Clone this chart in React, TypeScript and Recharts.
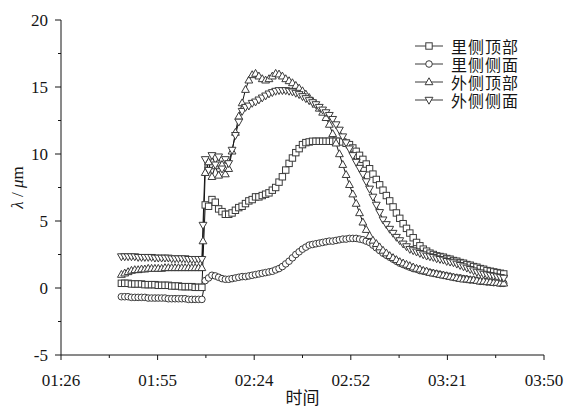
import React from 'react';
import { LineChart, Line, XAxis, YAxis, Legend, Label } from 'recharts';

// Sample times (hh:mm or hh:mm:ss)
const times = [
  '01:44', '01:45', '01:46', '01:47', '01:48', '01:49', '01:50', '01:51', '01:52', '01:53',
  '01:54', '01:55', '01:56', '01:57', '01:58', '01:59', '02:00', '02:01', '02:02', '02:03',
  '02:04', '02:05', '02:06', '02:07', '02:08',
  '02:08:20',
  '02:09', '02:10', '02:11', '02:12', '02:13', '02:14', '02:15', '02:16', '02:17', '02:18',
  '02:19', '02:20', '02:21', '02:22', '02:23', '02:24', '02:25', '02:26', '02:27', '02:28',
  '02:29', '02:30', '02:31', '02:32', '02:33', '02:34', '02:35', '02:36', '02:37', '02:38',
  '02:39', '02:40', '02:41', '02:42', '02:43', '02:44', '02:45', '02:46', '02:47', '02:48',
  '02:49', '02:50', '02:51', '02:52', '02:53', '02:54', '02:55', '02:56', '02:57', '02:58',
  '02:59', '03:00', '03:01', '03:02', '03:03', '03:04', '03:05', '03:06', '03:07', '03:08',
  '03:09', '03:10', '03:11', '03:12', '03:13', '03:14', '03:15', '03:16', '03:17', '03:18',
  '03:19', '03:20', '03:21', '03:22', '03:23', '03:24', '03:25', '03:26', '03:27', '03:28',
  '03:29', '03:30', '03:31', '03:32', '03:33', '03:34', '03:35', '03:36', '03:37', '03:38',
];

// 里侧顶部 (squares)
const innerTop = [
  0.35, 0.35, 0.35, 0.3, 0.3, 0.3, 0.3, 0.25, 0.25, 0.25,
  0.25, 0.2, 0.2, 0.2, 0.2, 0.15, 0.15, 0.15, 0.1, 0.1,
  0.1, 0.1, 0.05, 0.05, 0.05,
  null,
  6.2, 6.1, 6.6, 6.4, 5.9, 5.7, 5.5, 5.5, 5.6, 5.8,
  6.0, 6.1, 6.3, 6.5, 6.6, 6.8, 6.8, 6.9, 7.0, 7.1,
  7.3, 7.5, 7.9, 8.3, 8.8, 9.3, 9.7, 10.1, 10.4, 10.7,
  10.85, 10.9, 10.95, 10.95, 10.95, 10.95, 10.95, 10.95, 10.95, 10.95,
  10.95, 10.9, 10.8, 10.7, 10.45, 10.2, 9.9, 9.6, 9.25, 8.9,
  8.5, 8.1, 7.7, 7.3, 6.9, 6.5, 6.05, 5.6, 5.2, 4.8,
  4.45, 4.1, 3.75, 3.4, 3.15, 2.9, 2.75, 2.6, 2.5, 2.4,
  2.35, 2.3, 2.2, 2.15, 2.05, 2.0, 1.9, 1.85, 1.75, 1.7,
  1.6, 1.55, 1.45, 1.4, 1.3, 1.25, 1.2, 1.15, 1.1, 1.05,
];

// 里侧侧面 (circles)
const innerSide = [
  -0.65, -0.65, -0.65, -0.7, -0.7, -0.7, -0.7, -0.7, -0.75, -0.75,
  -0.75, -0.75, -0.75, -0.75, -0.8, -0.8, -0.8, -0.8, -0.8, -0.8,
  -0.85, -0.85, -0.85, -0.85, -0.85,
  null,
  0.55, 0.75, 0.95, 0.9, 0.8, 0.7, 0.65, 0.65, 0.7, 0.75,
  0.8, 0.85, 0.85, 0.9, 0.95, 1.0, 1.05, 1.1, 1.15, 1.2,
  1.25, 1.35, 1.45, 1.6, 1.8, 2.0, 2.25, 2.5, 2.7, 2.9,
  3.05, 3.2, 3.25, 3.3, 3.35, 3.4, 3.45, 3.5, 3.5, 3.55,
  3.6, 3.65, 3.65, 3.7, 3.7, 3.7, 3.65, 3.6, 3.5, 3.4,
  3.2, 3.0, 2.8, 2.6, 2.45, 2.3, 2.15, 2.0, 1.85, 1.75,
  1.65, 1.55, 1.45, 1.4, 1.3, 1.25, 1.2, 1.15, 1.1, 1.05,
  1.0, 0.95, 0.9, 0.85, 0.8, 0.75, 0.75, 0.7, 0.65, 0.6,
  0.6, 0.55, 0.5, 0.5, 0.45, 0.45, 0.4, 0.4, 0.35, 0.35,
];

// 外侧顶部 (triangles up)
const outerTop = [
  1.0, 1.1, 1.2, 1.3, 1.35, 1.35, 1.4, 1.4, 1.45, 1.45,
  1.45, 1.45, 1.45, 1.5, 1.5, 1.5, 1.5, 1.5, 1.5, 1.5,
  1.5, 1.5, 1.5, 1.5, 1.5,
  3.5,
  8.6, 9.4, 8.3, 9.1, 8.4, 9.2, 8.5, 8.9, 10.2, 11.6,
  12.8, 13.8, 14.8, 15.5, 15.9, 16.0, 15.8, 15.6, 15.5, 15.6,
  15.8, 16.0, 15.95, 15.8, 15.6, 15.45, 15.3, 15.1, 14.9, 14.7,
  14.45, 14.2, 13.95, 13.7, 13.4, 13.1, 12.7, 12.2, 11.5, 10.8,
  10.0, 9.2, 8.45, 7.7, 7.0, 6.3, 5.6, 4.9, 4.35, 3.9,
  3.55, 3.3, 3.05, 2.8, 2.6, 2.4, 2.25, 2.1, 1.95, 1.85,
  1.75, 1.65, 1.55, 1.45, 1.4, 1.3, 1.25, 1.15, 1.1, 1.05,
  1.0, 0.95, 0.9, 0.85, 0.8, 0.75, 0.7, 0.65, 0.65, 0.6,
  0.6, 0.55, 0.5, 0.5, 0.45, 0.45, 0.4, 0.4, 0.35, 0.35,
];

// 外侧侧面 (triangles down)
const outerSide = [
  2.35, 2.35, 2.35, 2.35, 2.35, 2.3, 2.3, 2.3, 2.3, 2.3,
  2.25, 2.25, 2.25, 2.25, 2.25, 2.2, 2.2, 2.2, 2.2, 2.2,
  2.15, 2.15, 2.15, 2.15, 2.15,
  4.7,
  9.6, 8.8, 9.9, 9.2, 9.8, 8.9, 9.6, 9.3, 10.3, 11.4,
  12.4, 13.2, 13.5, 13.6, 13.8, 13.9, 14.05, 14.2, 14.35, 14.5,
  14.6, 14.7, 14.75, 14.75, 14.75, 14.7, 14.65, 14.55, 14.45, 14.3,
  14.15, 14.0, 13.85, 13.7, 13.5, 13.3, 13.1, 12.9, 12.6, 12.2,
  11.8, 11.3, 10.85, 10.4, 9.9, 9.4, 8.95, 8.5, 7.95, 7.4,
  6.8, 6.2, 5.65, 5.1, 4.75, 4.4, 4.1, 3.8, 3.55, 3.3,
  3.1, 2.9, 2.8, 2.7, 2.6, 2.5, 2.4, 2.35, 2.3, 2.2,
  2.15, 2.1, 2.0, 1.95, 1.9, 1.8, 1.7, 1.6, 1.5, 1.4,
  1.3, 1.2, 1.15, 1.05, 1.0, 0.95, 0.9, 0.85, 0.8, 0.75,
];

const seriesNames = ['里侧顶部', '里侧侧面', '外侧顶部', '外侧侧面'];
const seriesKeys = ['innerTop', 'innerSide', 'outerTop', 'outerSide'];
const seriesShapes = ['square', 'circle', 'triUp', 'triDown'];

const xTickValues = [86, 100.4, 114.8, 129.2, 143.6, 158, 172.4, 186.8, 201.2, 215.6, 230];
const xTickLabels = ['01:26', '', '01:55', '', '02:24', '', '02:52', '', '03:21', '', '03:50'];
const yTickValues = [-5, -2.5, 0, 2.5, 5, 7.5, 10, 12.5, 15, 17.5, 20];
const yTickLabels = ['-5', '', '0', '', '5', '', '10', '', '15', '', '20'];

const xTitle = '时间';

const toMinutes = (s: string) => {
  const p = s.split(':').map(Number);
  return p[0] * 60 + p[1] + (p[2] || 0) / 60;
};

const data = times.map((t, i) => ({
  t: toMinutes(t),
  innerTop: innerTop[i],
  innerSide: innerSide[i],
  outerTop: outerTop[i],
  outerSide: outerSide[i],
}));

const INK = '#151515';
const MARK = '#3a3a3a';
const SERIF = "'Liberation Serif', Tinos, 'Times New Roman', Times, 'Nimbus Roman', 'Nimbus Roman No9 L', FreeSerif, serif";
const CJK = "'Noto Sans CJK SC', 'Noto Sans CJK JP', sans-serif";

function Marker({ shape, cx, cy }: { shape: string; cx: number; cy: number }) {
  const common = { stroke: MARK, strokeWidth: 1, fill: '#fff' };
  if (shape === 'square') return <rect x={cx - 3.2} y={cy - 3.2} width={6.4} height={6.4} {...common} />;
  if (shape === 'circle') return <circle cx={cx} cy={cy} r={3.3} {...common} />;
  if (shape === 'triUp')
    return <polygon points={`${cx},${cy - 4.2} ${cx + 3.9},${cy + 2.7} ${cx - 3.9},${cy + 2.7}`} {...common} />;
  return <polygon points={`${cx},${cy + 4.2} ${cx + 3.9},${cy - 2.7} ${cx - 3.9},${cy - 2.7}`} {...common} />;
}

const makeDot = (shape: string) => (props: any) => {
  const { cx, cy, index, value } = props;
  if (value == null || cx == null || cy == null || isNaN(cx) || isNaN(cy)) return <g key={`d-${index}`} />;
  return <Marker key={`d-${index}`} shape={shape} cx={cx} cy={cy} />;
};

const labelFor = (values: number[], labels: string[], v: number) => {
  const i = values.findIndex((x) => Math.abs(x - v) < 1e-6);
  return i >= 0 ? labels[i] : '';
};

const textStyle = { fontFamily: SERIF };

const BottomTick = (p: any) => {
  const lab = labelFor(xTickValues, xTickLabels, p.payload.value);
  const len = lab ? 5 : 3;
  return (
    <g>
      <line x1={p.x} y1={p.y} x2={p.x} y2={p.y + len} stroke={INK} strokeWidth={1} />
      {lab && (
        <text x={p.x} y={p.y + 31} textAnchor="middle" style={textStyle} fontSize={17} fill={INK}>
          {lab}
        </text>
      )}
    </g>
  );
};

const TopTick = (p: any) => {
  const lab = labelFor(xTickValues, xTickLabels, p.payload.value);
  const len = lab ? 5 : 3.5;
  return <line x1={p.x} y1={p.y} x2={p.x} y2={p.y + len} stroke={INK} strokeWidth={1} />;
};

const LeftTick = (p: any) => {
  const lab = labelFor(yTickValues, yTickLabels, p.payload.value);
  const len = lab ? 6 : 3;
  return (
    <g>
      <line x1={p.x - len} y1={p.y} x2={p.x} y2={p.y} stroke={INK} strokeWidth={1} />
      {lab && (
        <text x={p.x - 13} y={p.y} textAnchor="end" dominantBaseline="central" style={textStyle} fontSize={17} fill={INK}>
          {lab}
        </text>
      )}
    </g>
  );
};

const RightTick = (p: any) => {
  const lab = labelFor(yTickValues, yTickLabels, p.payload.value);
  const len = lab ? 5 : 3.5;
  return <line x1={p.x - len} y1={p.y} x2={p.x} y2={p.y} stroke={INK} strokeWidth={1} />;
};

const YTitle = (props: any) => {
  const vb = props.viewBox || { x: 0, y: 20, width: 61, height: 335 };
  const cx = vb.x + 17;
  const cy = vb.y + vb.height / 2;
  return (
    <text
      x={cx}
      y={cy}
      transform={`rotate(-90 ${cx} ${cy})`}
      textAnchor="middle"
      dominantBaseline="central"
      style={textStyle}
      fontSize={17}
      fill={INK}
    >
      <tspan fontStyle="italic">λ</tspan>
      <tspan>{'  /  '}</tspan>
      <tspan fontStyle="italic">μ</tspan>
      <tspan>m</tspan>
    </text>
  );
};

const XTitle = (props: any) => {
  const vb = props.viewBox || { x: 61, y: 355, width: 483, height: 58 };
  return (
    <text x={vb.x + vb.width / 2} y={vb.y + 49} textAnchor="middle" style={{ fontFamily: CJK }} fontSize={17} fill={INK}>
      {xTitle}
    </text>
  );
};

const renderLegend = () => (
  <div style={{ fontFamily: CJK, fontSize: 16, color: INK }}>
    {seriesNames.map((name, i) => (
      <div key={name} style={{ display: 'flex', alignItems: 'center', height: 18, whiteSpace: 'nowrap' }}>
        <svg width={30} height={14} style={{ display: 'block' }}>
          <line x1={1} y1={7} x2={29} y2={7} stroke={MARK} strokeWidth={1} />
          <Marker shape={seriesShapes[i]} cx={15} cy={7} />
        </svg>
        <span style={{ marginLeft: 7, lineHeight: '18px', letterSpacing: 1 }}>{name}</span>
      </div>
    ))}
  </div>
);

export default function App() {
  return (
    <div style={{ width: 565, height: 413, background: '#fff' }}>
      <style>{`body{margin:0;background:#fff}`}</style>
      <LineChart width={565} height={413} data={data} margin={{ top: 20, right: 21, bottom: 0, left: 0 }}>
        <XAxis
          xAxisId="b"
          dataKey="t"
          type="number"
          domain={[86, 230]}
          allowDataOverflow
          ticks={xTickValues}
          interval={0}
          height={58}
          tickSize={0}
          tickMargin={0}
          tickLine={false}
          axisLine={{ stroke: INK, strokeWidth: 1 }}
          tick={BottomTick}
        >
          <Label content={XTitle} />
        </XAxis>
        <XAxis
          xAxisId="t"
          orientation="top"
          type="number"
          domain={[86, 230]}
          allowDataOverflow
          ticks={xTickValues}
          interval={0}
          height={0}
          tickSize={0}
          tickMargin={0}
          tickLine={false}
          axisLine={{ stroke: INK, strokeWidth: 1 }}
          tick={TopTick}
        />
        <YAxis
          yAxisId="l"
          type="number"
          domain={[-5, 20]}
          allowDataOverflow
          ticks={yTickValues}
          interval={0}
          width={61}
          tickSize={0}
          tickMargin={0}
          tickLine={false}
          axisLine={{ stroke: INK, strokeWidth: 1 }}
          tick={LeftTick}
        >
          <Label content={YTitle} />
        </YAxis>
        <YAxis
          yAxisId="r"
          orientation="right"
          type="number"
          domain={[-5, 20]}
          allowDataOverflow
          ticks={yTickValues}
          interval={0}
          width={0}
          tickSize={0}
          tickMargin={0}
          tickLine={false}
          axisLine={{ stroke: INK, strokeWidth: 1 }}
          tick={RightTick}
        />
        <Legend
          layout="horizontal"
          verticalAlign="middle"
          align="center"
          content={renderLegend}
          wrapperStyle={{ position: 'absolute', top: 37, left: 414, right: 'auto', bottom: 'auto', width: 130, margin: 0, padding: 0 }}
        />
        {seriesKeys.map((k, i) => (
          <Line
            key={k}
            xAxisId="b"
            yAxisId="l"
            dataKey={k}
            name={seriesNames[i]}
            type="linear"
            stroke={INK}
            strokeWidth={1}
            connectNulls
            isAnimationActive={false}
            dot={makeDot(seriesShapes[i])}
            activeDot={false}
          />
        ))}
      </LineChart>
    </div>
  );
}
